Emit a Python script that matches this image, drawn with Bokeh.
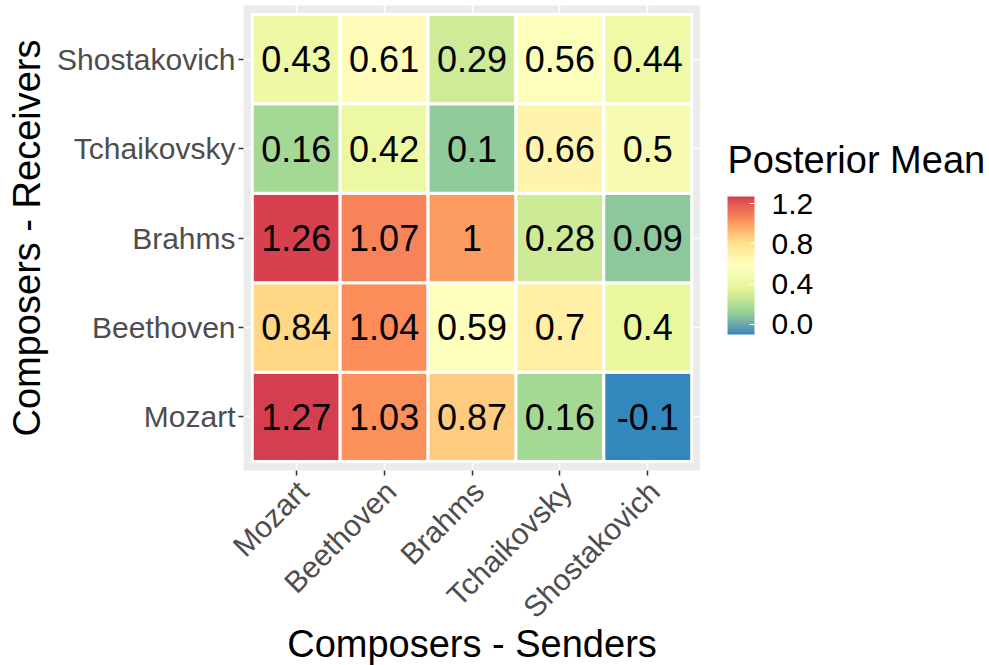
import math
import numpy as np
from bokeh.plotting import figure
from bokeh.layouts import column, row
from bokeh.models import (ColumnDataSource, LinearColorMapper, ColorBar, FixedTicker,
                          Range1d, PrintfTickFormatter)
from bokeh.transform import transform
from bokeh.core.properties import value
from bokeh.embed import file_html
from bokeh.resources import INLINE

# ---------------- data ----------------
composers = ["Mozart", "Beethoven", "Brahms", "Tchaikovsky", "Shostakovich"]
senders = composers      # x axis
receivers = composers    # y axis (bottom -> top)

# posterior means, one list per receiver (row), values in sender order
mozart_row = [1.27, 1.03, 0.87, 0.16, -0.10]
beethoven_row = [0.84, 1.04, 0.59, 0.70, 0.40]
brahms_row = [1.26, 1.07, 1.00, 0.28, 0.09]
tchaikovsky_row = [0.16, 0.42, 0.10, 0.66, 0.50]
shostakovich_row = [0.43, 0.61, 0.29, 0.56, 0.44]
rows = [mozart_row, beethoven_row, brahms_row, tchaikovsky_row, shostakovich_row]

x_title = "Composers - Senders"
y_title = "Composers - Receivers"
legend_title = "Posterior Mean"
legend_ticks = [0.0, 0.4, 0.8, 1.2]
spectral7 = ["#D53E4F", "#FC8D59", "#FEE08B", "#FFFFBF", "#E6F598", "#99D594", "#3288BD"]

# ---------------- palette (Lab interpolation like ggplot's distiller) ----------------
def hex_to_rgb(h):
    h = h.lstrip("#")
    return np.array([int(h[i:i + 2], 16) / 255.0 for i in (0, 2, 4)])

def srgb_to_lin(c):
    return np.where(c <= 0.04045, c / 12.92, ((c + 0.055) / 1.055) ** 2.4)

def lin_to_srgb(c):
    c = np.clip(c, 0, 1)
    return np.where(c <= 0.0031308, 12.92 * c, 1.055 * c ** (1 / 2.4) - 0.055)

M = np.array([[0.4124564, 0.3575761, 0.1804375],
              [0.2126729, 0.7151522, 0.0721750],
              [0.0193339, 0.1191920, 0.9503041]])
Minv = np.linalg.inv(M)
WHITE = np.array([0.95047, 1.0, 1.08883])

def f(t):
    d = 6 / 29
    return np.where(t > d ** 3, np.cbrt(t), t / (3 * d * d) + 4 / 29)

def finv(t):
    d = 6 / 29
    return np.where(t > d, t ** 3, 3 * d * d * (t - 4 / 29))

def rgb_to_lab(rgb):
    xyz = M @ srgb_to_lin(rgb) / WHITE
    fx, fy, fz = f(xyz)
    return np.array([116 * fy - 16, 500 * (fx - fy), 200 * (fy - fz)])

def lab_to_hex(lab):
    L, a, b = lab
    fy = (L + 16) / 116
    fx = fy + a / 500
    fz = fy - b / 200
    xyz = np.array([finv(fx), finv(fy), finv(fz)]) * WHITE
    rgb = lin_to_srgb(Minv @ xyz)
    return "#%02x%02x%02x" % tuple(int(round(v * 255)) for v in rgb)

anchors = [rgb_to_lab(hex_to_rgb(c)) for c in spectral7[::-1]]  # low = blue, high = red
npal = 256
palette = []
for i in range(npal):
    t = i / (npal - 1) * (len(anchors) - 1)
    k = min(int(t), len(anchors) - 2)
    w = t - k
    palette.append(lab_to_hex(anchors[k] * (1 - w) + anchors[k + 1] * w))

all_vals = [v for r in rows for v in r]
mapper = LinearColorMapper(palette=palette, low=min(all_vals), high=max(all_vals))

# ---------------- source ----------------
xs, ys, vals, labels = [], [], [], []
for ri, r in enumerate(receivers):
    for si, s in enumerate(senders):
        v = rows[ri][si]
        xs.append(si + 1)
        ys.append(ri + 1)
        vals.append(v)
        labels.append(f"{round(v, 2):g}")
src = ColumnDataSource(dict(x=xs, y=ys, val=vals, label=labels))

# ---------------- layout constants ----------------
FONT = "Liberation Sans"
LEFT = 243          # room for the y axis
TOP = 5
FRAME_W = 457
FRAME_H = 465
TICK_ROOM = 6
MAIN_H = TOP + FRAME_H + TICK_ROOM
TOTAL_W, TOTAL_H = 989, 665
LEG_W = TOTAL_W - LEFT - FRAME_W
BOT_H = TOTAL_H - MAIN_H
X0, X1 = 0.4, len(senders) + 0.6
Y0, Y1 = 0.4, len(receivers) + 0.6

# ---------------- main heatmap ----------------
p = figure(width=LEFT + FRAME_W, height=MAIN_H, output_backend="svg", toolbar_location=None,
           x_range=Range1d(X0, X1), y_range=Range1d(Y0, Y1),
           min_border_left=LEFT, min_border_right=0, min_border_top=TOP,
           min_border_bottom=TICK_ROOM)
p.background_fill_color = "#EBEBEB"
p.border_fill_color = "white"
p.outline_line_color = None

ticks = list(range(1, len(composers) + 1))
for ax in (p.xaxis, p.yaxis):
    ax.ticker = FixedTicker(ticks=ticks)
    ax.major_label_text_font = FONT
    ax.major_label_text_color = "#4D4D4D"
    ax.major_tick_line_color = "#333333"
    ax.major_tick_line_width = 1.5
    ax.major_tick_out = 5
    ax.major_tick_in = 0
    ax.minor_tick_line_color = None
    ax.axis_line_color = None
p.yaxis.major_label_overrides = {i + 1: n for i, n in enumerate(receivers)}
p.yaxis.major_label_text_font_size = "30px"
p.yaxis.major_label_standoff = 3
p.yaxis.axis_label = y_title
p.yaxis.axis_label_text_font = FONT
p.yaxis.axis_label_text_font_size = "38px"
p.yaxis.axis_label_text_font_style = "normal"
p.yaxis.axis_label_text_color = "black"
p.yaxis.axis_label_standoff = 6
# x tick labels are drawn (rotated) in the strip below
p.xaxis.major_label_overrides = {i + 1: "" for i in range(len(senders))}
p.xaxis.major_label_text_font_size = "0px"
p.xaxis.major_label_standoff = 0

p.xgrid.ticker = FixedTicker(ticks=ticks)
p.ygrid.ticker = FixedTicker(ticks=ticks)
p.grid.grid_line_color = "white"
p.grid.grid_line_width = 1.5

p.rect(x="x", y="y", width=1, height=1, source=src,
       fill_color=transform("val", mapper), line_color="white", line_width=3)
p.text(x="x", y="y", text="label", source=src, text_align="center", text_baseline="middle",
       text_font=value(FONT), text_font_size="36px", text_color="black")

# ---------------- legend panel ----------------
leg = figure(width=LEG_W, height=MAIN_H, output_backend="svg", toolbar_location=None,
             x_range=Range1d(0, LEG_W), y_range=Range1d(0, MAIN_H),
             x_axis_location=None, y_axis_location=None, min_border=0)
leg.grid.visible = False
leg.outline_line_color = None
leg.background_fill_color = "white"
leg.border_fill_color = "white"

cb = ColorBar(color_mapper=mapper, ticker=FixedTicker(ticks=legend_ticks),
              formatter=PrintfTickFormatter(format="%.1f"),
              location=(27, 136), orientation="vertical",
              width=27, height=138, margin=0, padding=0,
              major_label_text_font=FONT, major_label_text_font_size="30px",
              major_label_text_color="black", label_standoff=17,
              major_tick_line_color="white", major_tick_line_width=1, major_tick_in=5,
              major_tick_out=0, minor_tick_line_color=None, bar_line_color=None,
              background_fill_color="white", background_fill_alpha=0, border_line_color=None)
leg.add_layout(cb, "center")
leg.text(x=[27], y=[MAIN_H - 178], text=[legend_title], text_align="left",
         text_baseline="alphabetic", y_offset=-19,
         text_font=value(FONT), text_font_size="38px", text_color="black")

# ---------------- bottom strip: rotated sender labels + x title ----------------
ppu = FRAME_W / (X1 - X0)
bot = figure(width=LEFT + FRAME_W, height=BOT_H, output_backend="svg", toolbar_location=None,
             x_range=Range1d(X0 - LEFT / ppu, X1), y_range=Range1d(0, BOT_H),
             x_axis_location=None, y_axis_location=None, min_border=0)
bot.grid.visible = False
bot.outline_line_color = None
bot.background_fill_color = "white"
bot.border_fill_color = "white"
bot.text(x=ticks, y=[BOT_H - 3] * len(ticks), text=senders, angle=math.pi / 4,
         text_align="right", text_baseline="top", x_offset=-5, y_offset=-5,
         text_font=value(FONT), text_font_size="30px", text_color="#4D4D4D")
bot.text(x=[(X0 + X1) / 2], y=[9], text=[x_title], text_align="center",
         text_baseline="alphabetic", y_offset=-13,
         text_font=value(FONT), text_font_size="38px", text_color="black")

layout = column(row(p, leg), bot)
open("out.html", "w").write(file_html(layout, INLINE))
